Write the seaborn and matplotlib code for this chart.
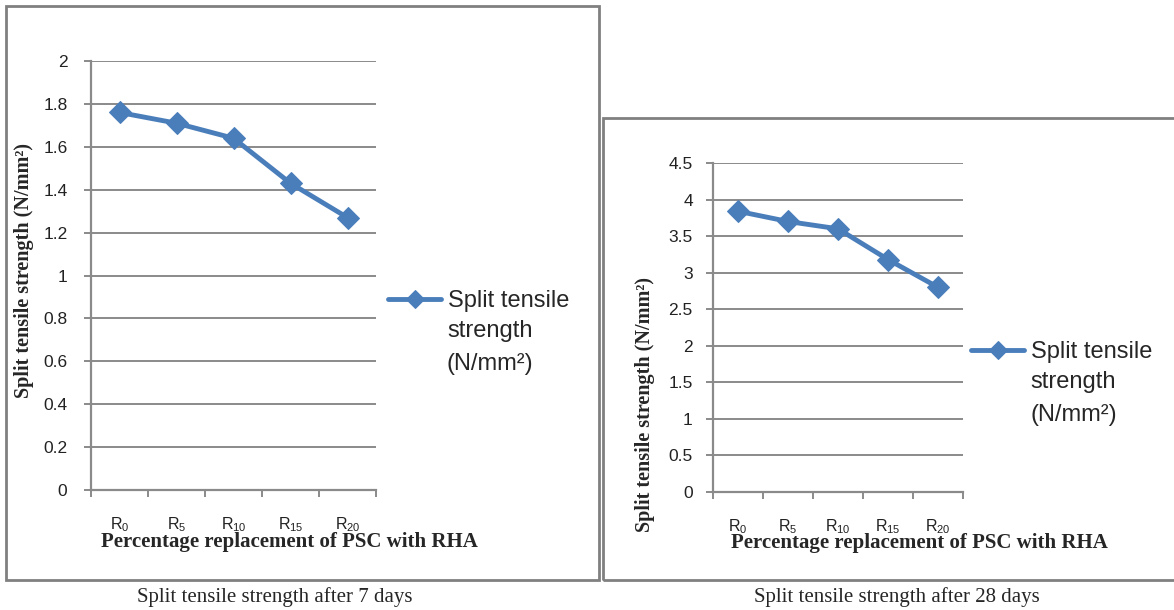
import matplotlib
matplotlib.use("Agg")
import matplotlib.pyplot as plt
from matplotlib.patches import Rectangle
import seaborn as sns
import pandas as pd
import numpy as np

categories = ["R$_{0}$", "R$_{5}$", "R$_{10}$", "R$_{15}$", "R$_{20}$"]
strength_7 = [1.76, 1.71, 1.64, 1.43, 1.27]
strength_28 = [3.84, 3.70, 3.60, 3.18, 2.80]
yticks_7 = [0, 0.2, 0.4, 0.6, 0.8, 1, 1.2, 1.4, 1.6, 1.8, 2]
yticks_28 = [0, 0.5, 1, 1.5, 2, 2.5, 3, 3.5, 4, 4.5]
legend_first = "Split tensile"
legend_rest = "strength\n(N/mm²)"
axis_y_title = "Split tensile strength (N/mm²)"
axis_x_title = "Percentage replacement of PSC with RHA"

sns.set_style("white")
plt.rcParams["font.family"] = ["Liberation Sans", "DejaVu Sans"]
plt.rcParams["mathtext.default"] = "regular"

W, H = 1174, 610
fig = plt.figure(figsize=(W / 100, H / 100), dpi=100)

def fx(x):
    return x / W

def fy(y):
    return 1 - y / H

LINE = "#4A7EBB"
GRID = "#8A8A8A"
SERIF = ["Liberation Serif", "DejaVu Serif"]

# outer boxes
fig.patches.append(Rectangle((fx(6), fy(580)), fx(593), 574 / H, transform=fig.transFigure,
                             fill=False, edgecolor="#808080", lw=2))
fig.patches.append(Rectangle((fx(603), fy(580)), fx(575), 462 / H, transform=fig.transFigure,
                             fill=False, edgecolor="#808080", lw=2))


def make_panel(rect, values, yticks, ymax, ypad, xpad, legend_xy, xlabel_xy, ylabel_xy,
               caption_xy, caption):
    ax = fig.add_axes(rect)
    df = pd.DataFrame({"pos": np.arange(len(categories)) + 0.5, "val": values})
    sns.lineplot(data=df, x="pos", y="val", ax=ax, color=LINE, lw=3.5, marker="D",
                 markersize=11, markeredgecolor=LINE, label=legend_first)
    ax.set_xlim(0, len(categories))
    ax.set_ylim(0, ymax)
    ax.set_yticks(yticks)
    ax.set_yticklabels([f"{t:g}" for t in yticks], fontsize=12.5, color="#222222")
    ax.yaxis.grid(True, color=GRID, lw=1.4)
    ax.set_axisbelow(True)
    ax.set_xticks(np.arange(len(categories) + 1))
    ax.set_xticklabels([])
    ax.set_xticks(np.arange(len(categories)) + 0.5, minor=True)
    ax.set_xticklabels(categories, minor=True, fontsize=11.5, color="#222222")
    ax.tick_params(axis="x", which="major", length=5, width=1.4, color=GRID, direction="out", bottom=True)
    ax.tick_params(axis="x", which="minor", length=0, pad=xpad)
    ax.tick_params(axis="y", length=5, width=1.4, color=GRID, direction="out", left=True, pad=ypad)
    for s in ["top", "right"]:
        ax.spines[s].set_visible(False)
    for s in ["left", "bottom"]:
        ax.spines[s].set_color(GRID)
        ax.spines[s].set_linewidth(1.6)
    ax.set_xlabel("")
    ax.set_ylabel("")
    lx, ly = legend_xy
    ax.legend(loc="center left", bbox_to_anchor=(fx(lx), fy(ly)),
              bbox_transform=fig.transFigure, frameon=False, fontsize=17,
              handlelength=2.25, handletextpad=0.3, borderpad=0, borderaxespad=0,
              markerscale=0.8)
    fig.text(fx(lx + 59), fy(ly + 19), legend_rest, fontsize=17, ha="left", va="top",
             linespacing=1.62)
    fig.text(fx(xlabel_xy[0]), fy(xlabel_xy[1]), axis_x_title,
             family=SERIF, weight="bold", fontsize=15, ha="center", va="center")
    fig.text(fx(ylabel_xy[0]), fy(ylabel_xy[1]), axis_y_title,
             family=SERIF, weight="bold", fontsize=14.5, ha="center", va="center",
             rotation=90)
    fig.text(fx(caption_xy[0]), fy(caption_xy[1]), caption,
             family=SERIF, fontsize=15, ha="center", va="center")
    return ax


make_panel([fx(91), fy(490), fx(285), 429 / H], strength_7, yticks_7, 2, 12, 18,
           (388, 301), (289, 542), (24, 270), (275, 597),
           "Split tensile strength after 7 days")
make_panel([fx(713), fy(492), fx(250), 329 / H], strength_28, yticks_28, 4.5, 9.5, 18,
           (971, 352), (919, 543), (645, 405), (897, 597),
           "Split tensile strength after 28 days")

fig.savefig("out.png", dpi=100)
